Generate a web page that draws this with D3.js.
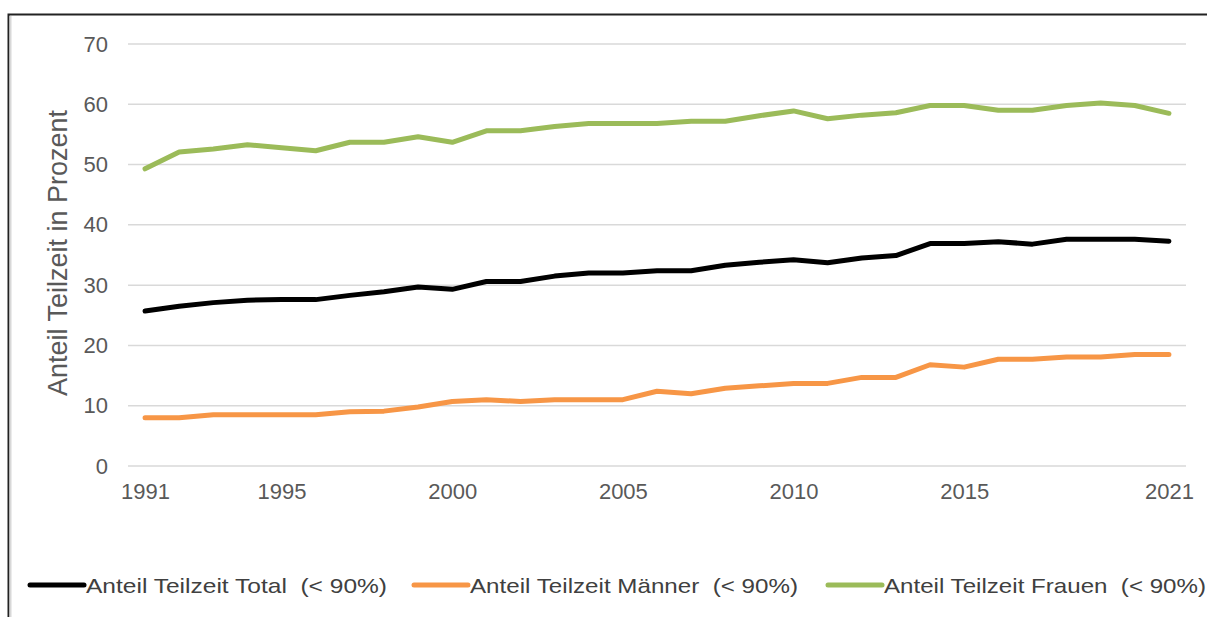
<!DOCTYPE html>
<html>
<head>
<meta charset="utf-8">
<script src="https://cdn.jsdelivr.net/npm/d3@7"></script>
<style>
  html, body { margin: 0; padding: 0; background: #fff; overflow: hidden; }
  svg { display: block; font-family: "Liberation Sans", Arial, sans-serif; }
</style>
</head>
<body>
<svg id="chart" width="1207" height="617"></svg>
<script>
const years = d3.range(1991, 2022);
const tickYears = [1991, 1995, 2000, 2005, 2010, 2015, 2021];
const yTicks = [0, 10, 20, 30, 40, 50, 60, 70];

const total = [25.7, 26.5, 27.1, 27.5, 27.6, 27.6, 28.3, 28.9, 29.7, 29.3,
  30.6, 30.6, 31.5, 32.0, 32.0, 32.4, 32.4, 33.3, 33.8, 34.2,
  33.7, 34.5, 34.9, 36.9, 36.9, 37.2, 36.8, 37.6, 37.6, 37.6, 37.3];
const maenner = [8.0, 8.0, 8.5, 8.5, 8.5, 8.5, 9.0, 9.1, 9.8, 10.7,
  11.0, 10.7, 11.0, 11.0, 11.0, 12.4, 12.0, 12.9, 13.3, 13.7,
  13.7, 14.7, 14.7, 16.8, 16.4, 17.7, 17.7, 18.1, 18.1, 18.5, 18.5];
const frauen = [49.3, 52.1, 52.6, 53.3, 52.8, 52.3, 53.7, 53.7, 54.6, 53.7,
  55.6, 55.6, 56.3, 56.8, 56.8, 56.8, 57.2, 57.2, 58.1, 58.9,
  57.6, 58.2, 58.6, 59.8, 59.8, 59.0, 59.0, 59.8, 60.2, 59.8, 58.5];

const seriesNames = ["Anteil Teilzeit Total  (< 90%)", "Anteil Teilzeit Männer  (< 90%)", "Anteil Teilzeit Frauen  (< 90%)"];
const seriesColors = ["#000000", "#F79646", "#9BBB59"];
const yTitle = "Anteil Teilzeit in Prozent";

const series = [total, maenner, frauen];

const svg = d3.select("#chart");

// frame
svg.append("rect")
  .attr("x", 8.5).attr("y", 14.5).attr("width", 1210).attr("height", 620)
  .attr("fill", "none").attr("stroke", "#222").attr("stroke-width", 2);
svg.append("line")
  .attr("x1", 10.5).attr("x2", 10.5).attr("y1", 16).attr("y2", 617)
  .attr("stroke", "#d8d8d8").attr("stroke-width", 2);

const x = d3.scalePoint().domain(years).range([128, 1186]).padding(0.5);
const y = d3.scaleLinear().domain([0, 70]).range([466, 44]);

// gridlines
svg.append("g")
  .selectAll("line").data(yTicks).join("line")
  .attr("x1", 128).attr("x2", 1186)
  .attr("y1", d => y(d)).attr("y2", d => y(d))
  .attr("stroke", "#d9d9d9").attr("stroke-width", 1.5);

// y axis
const yAxis = svg.append("g")
  .attr("transform", "translate(108,0)")
  .call(d3.axisLeft(y).tickValues(yTicks).tickSize(0).tickPadding(0));
yAxis.select(".domain").remove();
yAxis.selectAll("text")
  .attr("font-family", "Liberation Sans, Arial, sans-serif")
  .attr("font-size", 22).attr("fill", "#595959");

// x axis
const xAxis = svg.append("g")
  .attr("transform", "translate(0,483)")
  .call(d3.axisBottom(x).tickValues(tickYears).tickSize(0).tickPadding(0));
xAxis.select(".domain").remove();
xAxis.selectAll("text")
  .attr("font-family", "Liberation Sans, Arial, sans-serif")
  .attr("font-size", 22).attr("fill", "#595959");

// y title
svg.append("text")
  .attr("transform", "translate(67,253) rotate(-90)")
  .attr("text-anchor", "middle")
  .attr("font-size", 27).attr("fill", "#595959")
  .text(yTitle);

// lines
const line = d3.line().x((d, i) => x(years[i])).y(d => y(d)).curve(d3.curveLinear);
svg.append("g").selectAll("path").data(series).join("path")
  .attr("d", d => line(d))
  .attr("fill", "none")
  .attr("stroke", (d, i) => seriesColors[i])
  .attr("stroke-width", 5)
  .attr("stroke-linejoin", "round")
  .attr("stroke-linecap", "round");

// legend
const legendX = [28, 412, 826];
const legendTextW = [301, 328, 322];
const lg = svg.append("g").selectAll("g").data(seriesNames).join("g")
  .attr("transform", (d, i) => `translate(${legendX[i]},585)`);
lg.append("line")
  .attr("x1", 2).attr("x2", 56).attr("y1", 0).attr("y2", 0)
  .attr("stroke", (d, i) => seriesColors[i]).attr("stroke-width", 5)
  .attr("stroke-linecap", "round");
lg.append("text")
  .attr("x", 58).attr("y", 8)
  .attr("font-size", 21).attr("fill", "#404040")
  .attr("textLength", (d, i) => legendTextW[i])
  .attr("lengthAdjust", "spacingAndGlyphs")
  .style("white-space", "pre")
  .text(d => d);
</script>
</body>
</html>
